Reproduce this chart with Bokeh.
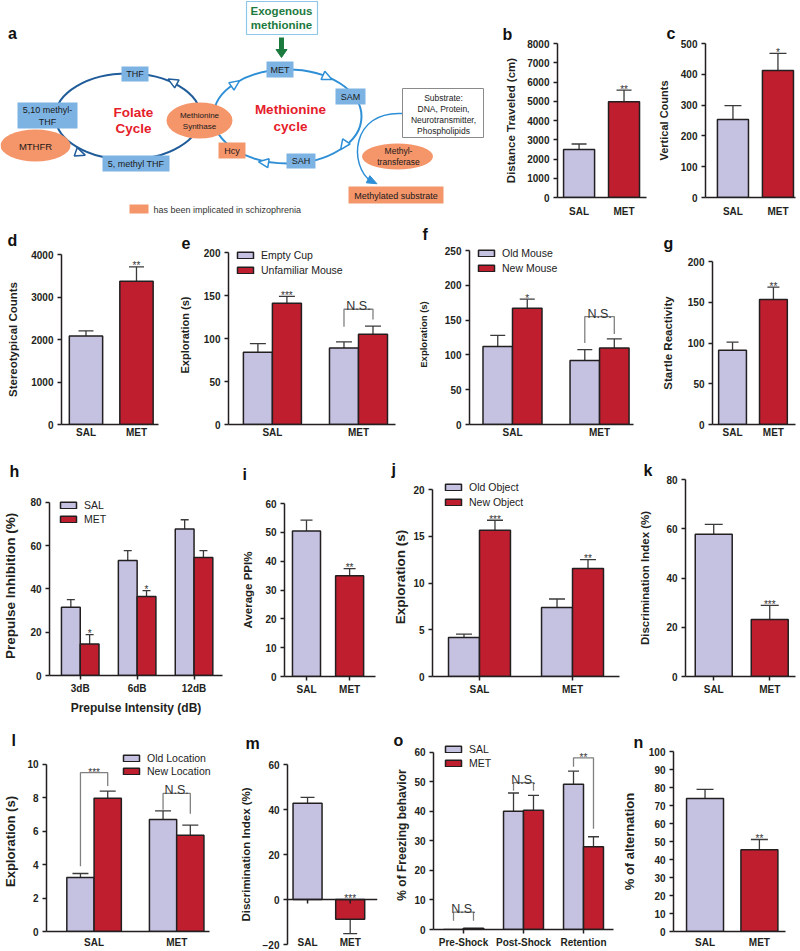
import numpy as np
from bokeh.plotting import figure
from bokeh.models import (Range1d, FixedTicker, ColumnDataSource, Whisker, TeeHead,
                          Legend, LegendItem, Span)
from bokeh.layouts import row, column
from bokeh.core.properties import value
from bokeh.embed import file_html
from bokeh.resources import INLINE

# ------------------------------------------------------------------ data
two_groups = ["SAL", "MET"]

b_values = [2500, 4980]
b_errors = [280, 600]
b_sig = ["", "**"]
b_yticks = [0, 1000, 2000, 3000, 4000, 5000, 6000, 7000, 8000]

c_values = [253, 412]
c_errors = [45, 56]
c_sig = ["", "*"]
c_yticks = [0, 100, 200, 300, 400, 500]

d_values = [2080, 3370]
d_errors = [125, 340]
d_sig = ["", "**"]
d_yticks = [0, 1000, 2000, 3000, 4000]

e_series = ["Empty Cup", "Unfamiliar Mouse"]
e_empty = [84, 89]
e_empty_err = [10, 7]
e_unfamiliar = [141, 105]
e_unfamiliar_err = [8, 9.5]
e_sig = ["***", ""]
e_brackets = [(1, 113.6, 122, 134, "N.S.")]
e_yticks = [0, 50, 100, 150, 200]

f_series = ["Old Mouse", "New Mouse"]
f_old = [112, 92]
f_old_err = [16, 15.5]
f_new = [167, 110]
f_new_err = [13, 13]
f_sig = ["*", ""]
f_brackets = [(1, 117, 130, 155, "N.S.")]
f_yticks = [0, 50, 100, 150, 200, 250]

g_values = [91, 153.5]
g_errors = [10, 15]
g_sig = ["", "**"]
g_yticks = [0, 50, 100, 150, 200]

h_groups = ["3dB", "6dB", "12dB"]
h_series = ["SAL", "MET"]
h_sal = [31.5, 53.2, 67.7]
h_sal_err = [3.6, 4.5, 4.3]
h_met = [14.6, 36.5, 54.5]
h_met_err = [4.3, 2.7, 3.2]
h_sig = ["*", "*", ""]
h_yticks = [0, 20, 40, 60, 80]

i_values = [50.5, 34.9]
i_errors = [3.7, 2.5]
i_sig = ["", "**"]
i_yticks = [0, 10, 20, 30, 40, 50, 60]

j_series = ["Old Object", "New Object"]
j_old = [4.18, 7.39]
j_old_err = [0.36, 0.9]
j_new = [15.64, 11.54]
j_new_err = [1.07, 0.96]
j_sig = ["***", "**"]
j_yticks = [0, 5, 10, 15, 20]

k_values = [57.8, 23.1]
k_errors = [4.0, 5.8]
k_sig = ["", "***"]
k_yticks = [0, 20, 40, 60, 80]

l_series = ["Old Location", "New Location"]
l_old = [3.23, 6.7]
l_old_err = [0.24, 0.52]
l_new = [7.97, 5.76]
l_new_err = [0.43, 0.61]
l_brackets = [(0, 3.9, 8.7, 9.5, "***"), (1, 7.28, 7.04, 8.26, "N.S.")]
l_yticks = [0, 2, 4, 6, 8, 10]

m_values = [42.8, -8.76]
m_errors = [2.6, 6.4]
m_sig = ["", "***"]
m_yticks = [-20, 0, 20, 40, 60]

o_groups = ["Pre-Shock", "Post-Shock", "Retention"]
o_series = ["SAL", "MET"]
o_sal = [0.0, 40.0, 49.2]
o_sal_err = [0.0, 6.2, 4.4]
o_met = [0.4, 40.4, 28.0]
o_met_err = [0.0, 5.0, 3.4]
o_brackets = [(0, 3, 3, 5.86, "N.S."), (1, 47, 47, 49.7, "N.S."), (2, 55.1, 34.1, 58.1, "**")]
o_yticks = [0, 10, 20, 30, 40, 50, 60]

n_values = [73.9, 45.4]
n_errors = [5.1, 5.7]
n_sig = ["", "**"]
n_yticks = [0, 10, 20, 30, 40, 50, 60, 70, 80, 90, 100]

# ------------------------------------------------------------------ style
SAL_C = "#c4c1e1"
MET_C = "#be1e2d"
EDGE = "#231f20"
TXT = "#231f20"
ERR_C = "#3a3a3a"
BRK_C = "#808080"
FONT = "Liberation Sans"
TH, DESC = 19.0, 3.4


def make_panel(box, frame, xr, yr, yticks, ylabel, xlabels, letter, letter_x, letter_base,
               ylab_size="11.5px", ylab_standoff=7, xtick_out=0, xlab_standoff=5,
               ext_top=0, ext_right=0):
    x0, x1, y0, y1 = box
    fl, fr, ft, fb = frame
    y_end = yr[1] + ext_top * (yr[1] - yr[0]) / (fb - ft)
    x_end = xr[1] + ext_right * (xr[1] - xr[0]) / (fr - fl)
    top_actual = ft - ext_top
    min_top = top_actual - y0
    p = figure(width=x1 - x0, height=y1 - y0,
               x_range=Range1d(xr[0], x_end), y_range=Range1d(yr[0], y_end),
               output_backend="svg", toolbar_location=None, frame_align=False,
               min_border_left=fl - x0, min_border_right=x1 - (fr + ext_right),
               min_border_top=min_top, min_border_bottom=y1 - fb,
               title=letter)
    p.outline_line_color = None
    p.xgrid.visible = False
    p.ygrid.visible = False
    p.background_fill_color = "white"
    p.border_fill_color = "white"
    t = p.title
    t.text_font = FONT
    t.text_font_size = "16px"
    t.text_font_style = "bold"
    t.text_color = "#111111"
    t.align = "left"
    t.offset = letter_x - fl
    s = 2 * (top_actual - DESC - letter_base)
    s = min(s, min_top - 3 - TH)
    t.standoff = int(round(s))

    ya = p.yaxis[0]
    ya.bounds = (yr[0], yr[1])
    ya.ticker = FixedTicker(ticks=yticks)
    ya.axis_label = ylabel
    ya.axis_label_text_font = FONT
    ya.axis_label_text_font_style = "bold"
    ya.axis_label_text_font_size = ylab_size
    ya.axis_label_text_color = TXT
    ya.axis_label_standoff = ylab_standoff
    ya.major_label_text_font = FONT
    ya.major_label_text_font_style = "bold"
    ya.major_label_text_font_size = "10px"
    ya.major_label_text_color = TXT
    ya.major_label_standoff = 4
    ya.major_tick_out = 4
    ya.major_tick_in = 0
    ya.minor_tick_out = 0
    ya.minor_tick_in = 0
    ya.axis_line_width = 1.5
    ya.axis_line_color = EDGE
    ya.major_tick_line_width = 1.5
    ya.major_tick_line_color = EDGE

    xa = p.xaxis[0]
    xa.bounds = (xr[0], xr[1])
    xa.ticker = FixedTicker(ticks=list(range(len(xlabels))))
    xa.major_label_overrides = {i: lab for i, lab in enumerate(xlabels)}
    xa.major_label_text_font = FONT
    xa.major_label_text_font_style = "bold"
    xa.major_label_text_font_size = "10px"
    xa.major_label_text_color = TXT
    xa.major_label_standoff = xlab_standoff
    xa.major_tick_out = xtick_out
    xa.major_tick_in = 0
    xa.minor_tick_out = 0
    xa.minor_tick_in = 0
    xa.axis_line_width = 1.5
    xa.axis_line_color = EDGE
    xa.major_tick_line_width = 1.5
    xa.major_tick_line_color = EDGE
    return p


def add_errors(p, xs, vals, errs, cap):
    up = [(x, v, v + e) for x, v, e in zip(xs, vals, errs) if v >= 0 and e > 0]
    dn = [(x, v - e, v) for x, v, e in zip(xs, vals, errs) if v < 0 and e > 0]
    if up:
        src = ColumnDataSource(dict(base=[u[0] for u in up], lower=[u[1] for u in up],
                                    upper=[u[2] for u in up]))
        p.add_layout(Whisker(source=src, base="base", lower="lower", upper="upper",
                             line_color=ERR_C, line_width=1.3,
                             upper_head=TeeHead(size=cap, line_color=ERR_C, line_width=1.3),
                             lower_head=None))
    if dn:
        src = ColumnDataSource(dict(base=[u[0] for u in dn], lower=[u[1] for u in dn],
                                    upper=[u[2] for u in dn]))
        p.add_layout(Whisker(source=src, base="base", lower="lower", upper="upper",
                             line_color=ERR_C, line_width=1.3,
                             lower_head=TeeHead(size=cap, line_color=ERR_C, line_width=1.3),
                             upper_head=None))


def add_sig(p, xs, vals, errs, sig, offset=-1):
    px, py, pt = [], [], []
    for x, v, e, s in zip(xs, vals, errs, sig):
        if s:
            px.append(x)
            py.append(v + e if v >= 0 else 0)
            pt.append(s)
    if pt:
        p.text(x=px, y=py, text=pt, text_font=value(FONT), text_font_size="10px",
               text_align="center", text_baseline="alphabetic", text_color="#333333",
               y_offset=offset)


def single_bars(p, vals, errs, sig, width, cap):
    xs = list(range(len(vals)))
    src = ColumnDataSource(dict(x=xs, top=vals, color=[SAL_C, MET_C]))
    p.vbar(x="x", top="top", bottom=0, width=width, fill_color="color",
           line_color=EDGE, line_width=1.5, source=src)
    add_errors(p, xs, vals, errs, cap)
    add_sig(p, xs, vals, errs, sig)


def grouped_bars(p, series, width, cap, sig=None, sig_series=1):
    rends = []
    n = len(series)
    for k, (vals, errs, col) in enumerate(series):
        off = (k - (n - 1) / 2) * width
        xs = [i + off for i in range(len(vals))]
        r = p.vbar(x=xs, top=vals, bottom=0, width=width, fill_color=col,
                   line_color=EDGE, line_width=1.5)
        add_errors(p, xs, vals, errs, cap)
        if sig is not None and k == sig_series:
            add_sig(p, xs, vals, errs, sig)
        rends.append(r)
    return rends


def add_brackets(p, brackets, width):
    for g, yl, yrr, yt, lab in brackets:
        xl = g - width / 2
        xr = g + width / 2
        p.line(x=[xl, xl, xr, xr], y=[yl, yt, yt, yrr], line_color=BRK_C, line_width=1.3)
        stars = lab.startswith("*")
        p.text(x=[g], y=[yt], text=[lab], text_font=value(FONT),
               text_font_size="10px" if stars else "12.5px",
               text_align="center", text_baseline="alphabetic", text_color="#333333",
               y_offset=0 if stars else -3)


def add_legend(p, rends, labels, frame, left_ref, first_center_ref, pitch):
    fl, fr, ft, fb = frame
    item_h = 13
    spacing = pitch - item_h
    lh = 2 * item_h + spacing
    top = first_center_ref - item_h / 2
    loc_x = left_ref - fl
    loc_y = int(round(fb - top - lh))
    lg = Legend(items=[LegendItem(label=l, renderers=[r]) for l, r in zip(labels, rends)],
                location=(loc_x, loc_y), orientation="vertical",
                glyph_width=20, glyph_height=8, label_height=item_h, label_standoff=6,
                spacing=spacing, padding=0, margin=0,
                border_line_alpha=0, background_fill_alpha=0,
                label_text_font=FONT, label_text_font_size="10.5px", label_text_color="#222222")
    p.add_layout(lg)


# ------------------------------------------------------------------ panel a (diagram)
BLUE_FILL = "#7db3e3"
ORANGE = "#f4956a"
FOLATE_LINE = "#1f5c99"
METH_LINE = "#2e8fd6"
RED_TXT = "#e5202a"
GREEN = "#1b7a3e"

pa = figure(width=490, height=219, x_range=Range1d(0, 490), y_range=Range1d(219, 0),
            output_backend="svg", toolbar_location=None, min_border=0, frame_align=False,
            x_axis_location=None, y_axis_location=None, title=None)
pa.outline_line_color = None
pa.xgrid.visible = False
pa.ygrid.visible = False


def tri(cx, cy, dx, dy, L=9.0, W=8.0):
    nrm = (dx * dx + dy * dy) ** 0.5
    ux, uy = dx / nrm, dy / nrm
    qx, qy = -uy, ux
    ax, ay = cx + ux * L / 2, cy + uy * L / 2
    bx, by = cx - ux * L / 2, cy - uy * L / 2
    return [ax, bx + qx * W / 2, bx - qx * W / 2], [ay, by + qy * W / 2, by - qy * W / 2]


def atext(xs, ys, texts, size="9px", color="#1a1a1a", style="normal", align="center"):
    pa.text(x=xs, y=ys, text=texts, text_font=value(FONT), text_font_size=size,
            text_font_style=style, text_color=color, text_align=align, text_baseline="middle")


pa.ellipse(x=[127.5], y=[116], width=[145], height=[86], fill_color=None,
           line_color=FOLATE_LINE, line_width=2)
pa.ellipse(x=[287], y=[116], width=[148], height=[94], fill_color=None,
           line_color=METH_LINE, line_width=2)
pa.bezier(x0=[402], y0=[113], x1=[371], y1=[181], cx0=[350], cy0=[110], cx1=[348], cy1=[166],
          line_color=METH_LINE, line_width=1.5)
hx, hy = tri(372, 181, 1, 0.5, L=10, W=8)
pa.patch(x=hx, y=hy, fill_color=METH_LINE, line_color=METH_LINE)

# exogenous methionine
pa.quad(left=[246], right=[317], top=[1], bottom=[34], fill_color="white",
        line_color="#8cc7e8", line_width=1.2)
atext([281, 281], [10, 24], ["Exogenous", "methionine"], size="11.5px", color=GREEN, style="bold")
pa.segment(x0=[281], y0=[37], x1=[281], y1=[50], line_color=GREEN, line_width=5)
gx, gy = tri(281, 53, 0, 1, L=8, W=11)
pa.patch(x=gx, y=gy, fill_color=GREEN, line_color=GREEN)

# blue boxes
blue_boxes = [(121, 148, 66, 81), (17, 77, 102, 128), (102, 169, 155, 171),
              (266, 293, 61, 77), (335, 365, 88, 104), (286, 315, 153, 168)]
pa.quad(left=[b[0] for b in blue_boxes], right=[b[1] for b in blue_boxes],
        top=[b[2] for b in blue_boxes], bottom=[b[3] for b in blue_boxes],
        fill_color=BLUE_FILL, line_color=None)
atext([134.5, 47, 47, 135.5, 279.5, 350, 300.5], [73.5, 109.5, 121, 163, 69, 96, 160.5],
      ["THF", "5,10 methyl-", "THF", "5, methyl THF", "MET", "SAM", "SAH"])

# orange shapes
pa.ellipse(x=[35, 199, 397], y=[145, 120, 156], width=[70, 66, 71], height=[32, 36, 26],
           fill_color=ORANGE, line_color=None)
pa.quad(left=[218, 348, 129], right=[245, 443, 148], top=[142, 186, 204], bottom=[158, 203, 213],
        fill_color=ORANGE, line_color=None)
atext([35], [146], ["MTHFR"], size="9.5px")
atext([199, 199], [114.5, 125.5], ["Methionine", "Synthase"], size="8px")
atext([398, 398], [150.5, 161], ["Methyl-", "transferase"], size="8.5px")
atext([231.5, 395.5], [150, 195], ["Hcy", "Methylated substrate"])
atext([153], [209], ["has been implicated in schizophrenia"], size="9px", color="#333333",
      align="left")

# substrate box
pa.quad(left=[402], right=[483], top=[88], bottom=[137], fill_color="white",
        line_color="#8a8a8a", line_width=1)
atext([443, 443, 443, 443], [97.5, 108.5, 119.5, 130],
      ["Substrate:", "DNA, Protein,", "Neurotransmitter,", "Phospholipids"], size="8.5px",
      color="#222222")

# cycle titles
atext([133, 133], [112, 128], ["Folate", "Cycle"], size="13.5px", color=RED_TXT, style="bold")
atext([290, 290], [109, 126], ["Methionine", "cycle"], size="13.5px", color=RED_TXT, style="bold")

# open arrowheads on the cycles
heads = [(172, 81, -1, -0.55, FOLATE_LINE), (80, 153, 1, 0.35, FOLATE_LINE),
         (235, 83, 1, -0.7, METH_LINE), (327, 77, 1, 0.45, METH_LINE),
         (343, 145, -0.7, 1, METH_LINE), (263, 162, -1, -0.15, METH_LINE)]
for cx, cy, dx, dy, col in heads:
    tx, ty = tri(cx, cy, dx, dy, L=10, W=9)
    pa.patch(x=tx, y=ty, fill_color="white", line_color=col, line_width=1.5)

atext([12], [33], ["a"], size="16px", color="#111111", style="bold")

# ------------------------------------------------------------------ row 1
pb = make_panel((490, 652, 0, 219), (557, 646, 43, 197), (-0.48, 1.5), (0, 8000), b_yticks,
                "Distance Traveled (cm)", two_groups, "b", 502, 39, ylab_standoff=7,
                xlab_standoff=8)
single_bars(pb, b_values, b_errors, b_sig, 0.69, 15)

pc = make_panel((652, 800, 0, 219), (705, 795, 43, 197), (-0.61, 1.39), (0, 500), c_yticks,
                "Vertical Counts", two_groups, "c", 666, 38, ylab_size="11px", ylab_standoff=8,
                xlab_standoff=8)
single_bars(pc, c_values, c_errors, c_sig, 0.69, 17)

# ------------------------------------------------------------------ row 2
pd_ = make_panel((0, 172, 219, 440), (61, 158, 254, 424), (-0.485, 1.436), (0, 4000), d_yticks,
                 "Stereotypical Counts", two_groups, "d", 7, 245, ylab_standoff=9,
                 xlab_standoff=2)
single_bars(pd_, d_values, d_errors, d_sig, 0.66, 15)

E_FRAME = (228, 395, 252, 424)
pe = make_panel((172, 398, 219, 440), E_FRAME, (-0.51, 1.43), (0, 200), e_yticks,
                "Exploration (s)", two_groups, "e", 181, 245, ylab_size="11px", ylab_standoff=10,
                xlab_standoff=2, ext_top=7)
re_ = grouped_bars(pe, [(e_empty, e_empty_err, SAL_C), (e_unfamiliar, e_unfamiliar_err, MET_C)],
                   0.337, 16, sig=e_sig, sig_series=1)
add_brackets(pe, e_brackets, 0.337)
add_legend(pe, re_, e_series, E_FRAME, 235, 254.5, 15)

F_FRAME = (469, 633, 250, 424)
pf = make_panel((398, 642, 219, 440), F_FRAME, (-0.494, 1.39), (0, 250), f_yticks,
                "Exploration (s)", two_groups, "f", 422, 238, ylab_size="9.5px", ylab_standoff=13,
                xlab_standoff=2, ext_top=6)
rf = grouped_bars(pf, [(f_old, f_old_err, SAL_C), (f_new, f_new_err, MET_C)],
                  0.339, 15, sig=f_sig, sig_series=1)
add_brackets(pf, f_brackets, 0.339)
add_legend(pf, rf, f_series, F_FRAME, 476, 253, 15)

pg = make_panel((642, 800, 219, 440), (712, 795, 261, 424), (-0.49, 1.54), (0, 200), g_yticks,
                "Startle Reactivity", two_groups, "g", 663, 245, ylab_standoff=11, xlab_standoff=2)
single_bars(pg, g_values, g_errors, g_sig, 0.68, 12)

# ------------------------------------------------------------------ row 3
H_FRAME = (47, 222, 502, 676)
ph = make_panel((0, 236, 440, 717), H_FRAME, (-0.54, 2.5), (0, 80), h_yticks,
                "Prepulse Inhibition (%)", h_groups, "h", 7, 475, ylab_size="13.5px",
                ylab_standoff=9, xtick_out=4, xlab_standoff=3, ext_top=6)
ph.xaxis[0].axis_label = "Prepulse Intensity (dB)"
ph.xaxis[0].axis_label_text_font = FONT
ph.xaxis[0].axis_label_text_font_style = "bold"
ph.xaxis[0].axis_label_text_font_size = "12px"
ph.xaxis[0].axis_label_text_color = TXT
ph.xaxis[0].axis_label_standoff = 4
rh = grouped_bars(ph, [(h_sal, h_sal_err, SAL_C), (h_met, h_met_err, MET_C)], 0.33, 8,
                  sig=h_sig, sig_series=1)
add_legend(ph, rh, h_series, H_FRAME, 56, 505, 14)

pi = make_panel((236, 388, 440, 717), (284, 375, 503, 676), (-0.51, 1.6), (0, 60), i_yticks,
                "Average PPI%", two_groups, "i", 242, 475, ylab_standoff=8, xtick_out=4,
                xlab_standoff=3)
single_bars(pi, i_values, i_errors, i_sig, 0.65, 12)

J_FRAME = (432, 619, 489, 676)
pj = make_panel((388, 636, 440, 717), J_FRAME, (-0.505, 1.505), (0, 20), j_yticks,
                "Exploration (s)", two_groups, "j", 391, 474, ylab_size="13.5px", ylab_standoff=2,
                xtick_out=4, xlab_standoff=3, ext_top=12)
rj = grouped_bars(pj, [(j_old, j_old_err, SAL_C), (j_new, j_new_err, MET_C)], 0.333, 16,
                  sig=j_sig, sig_series=1)
add_legend(pj, rj, j_series, J_FRAME, 443, 486, 15)

pk = make_panel((636, 800, 440, 717), (682, 795, 479, 676), (-0.504, 1.46), (0, 80), k_yticks,
                "Discrimination Index (%)", two_groups, "k", 640, 475, ylab_standoff=12,
                xtick_out=4, xlab_standoff=3)
single_bars(pk, k_values, k_errors, k_sig, 0.66, 18)

# ------------------------------------------------------------------ row 4
L_FRAME = (41, 209, 764, 933)
pl = make_panel((0, 236, 717, 950), L_FRAME, (-0.576, 1.4), (0, 10), l_yticks,
                "Exploration (s)", two_groups, "l", 6, 745, ylab_size="13px", ylab_standoff=6,
                xlab_standoff=5, ext_top=13, ext_right=8)
rl = grouped_bars(pl, [(l_old, l_old_err, SAL_C), (l_new, l_new_err, MET_C)], 0.33, 16)
add_brackets(pl, l_brackets, 0.33)
add_legend(pl, rl, l_series, L_FRAME, 116, 760, 12)

pm = make_panel((236, 392, 717, 950), (281, 377, 764, 947), (-0.47, 1.64), (-20, 60), m_yticks,
                "Discrimination Index (%)", two_groups, "m", 239, 747, ylab_standoff=8,
                xlab_standoff=-8)
pm.xaxis[0].axis_line_alpha = 0
single_bars(pm, m_values, m_errors, m_sig, 0.68, 14)
pm.add_layout(Span(location=0, dimension="width", line_color=EDGE, line_width=1.5))
m_x = list(range(len(two_groups)))
pm.segment(x0=m_x, y0=[0] * len(m_x), x1=m_x, y1=[-1.8] * len(m_x), line_color=EDGE,
           line_width=1.5)

O_FRAME = (433, 613, 752, 933)
po = make_panel((392, 615, 717, 950), O_FRAME, (-0.5, 2.5), (0, 60), o_yticks,
                "% of Freezing behavior", o_groups, "o", 393, 745, ylab_size="12px",
                ylab_standoff=2, xtick_out=4, xlab_standoff=3, ext_top=12)
ro = grouped_bars(po, [(o_sal, o_sal_err, SAL_C), (o_met, o_met_err, MET_C)], 0.333, 11)
add_brackets(po, o_brackets, 0.333)
add_legend(po, ro, o_series, O_FRAME, 443, 752, 14)

pn = make_panel((615, 800, 717, 950), (673, 785, 751, 932), (-0.58, 1.48), (0, 100), n_yticks,
                "% of alternation", two_groups, "n", 633, 747, ylab_size="13px", ylab_standoff=9,
                xlab_standoff=5)
single_bars(pn, n_values, n_errors, n_sig, 0.68, 17)

layout = column(
    row(pa, pb, pc),
    row(pd_, pe, pf, pg),
    row(ph, pi, pj, pk),
    row(pl, pm, po, pn),
)

open("out.html", "w").write(file_html(layout, INLINE))
